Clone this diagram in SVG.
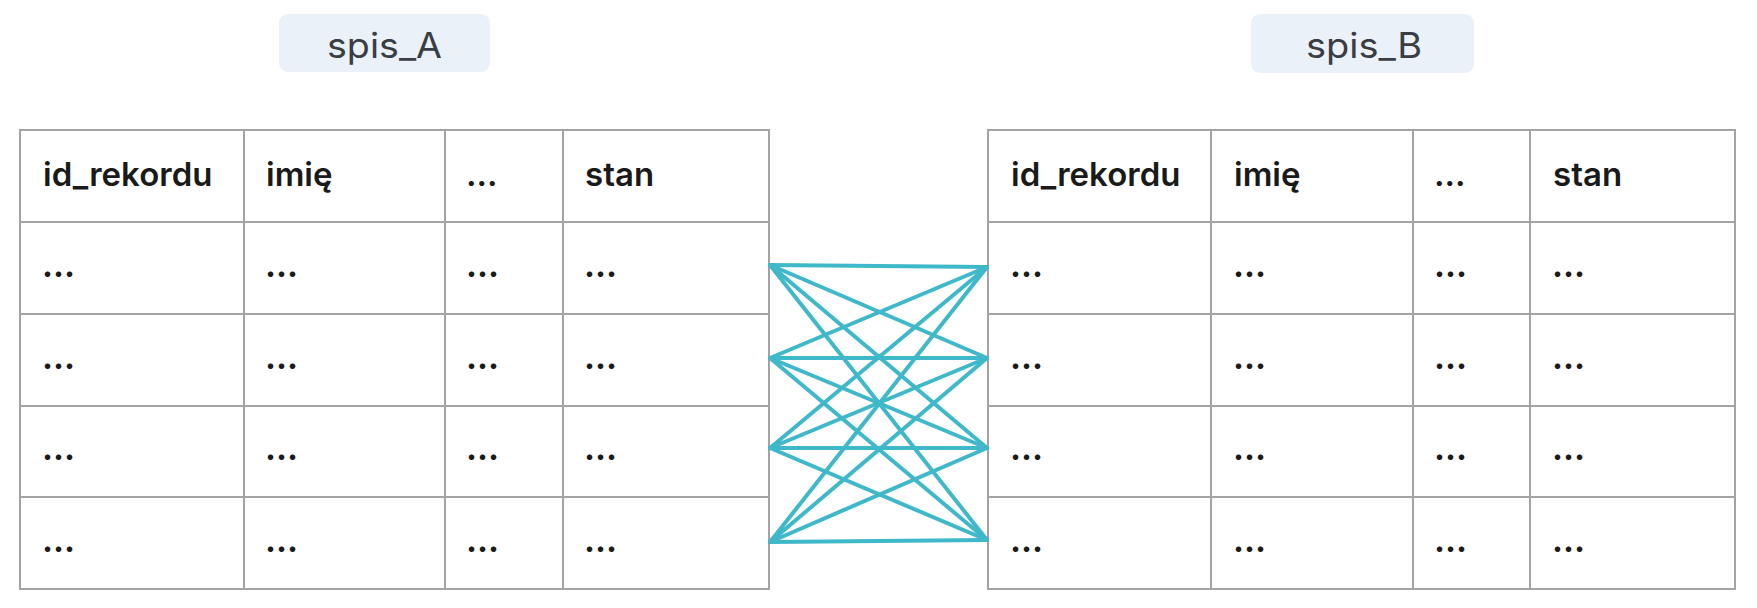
<svg xmlns="http://www.w3.org/2000/svg" width="1757" height="608" viewBox="0 0 1757 608">
<style>
.lbl{fill:#eaf1f8}
.lt{font-family:Inter,"Noto Sans",sans-serif;font-size:35px;fill:#3a3d42}
.grid{fill:none;stroke:#a3a3a3;stroke-width:2}
.h{font-family:Inter,"Noto Sans",sans-serif;font-size:33px;font-weight:600;fill:#1a1a1a}
.d{font-family:Inter,"Noto Sans",sans-serif;font-size:33px;font-weight:700;fill:#1a1a1a}
.c{stroke:#3fb8c9;stroke-width:4;stroke-linecap:round}
</style>
<rect width="1757" height="608" fill="#ffffff"/>
<g id="spis_A">
<rect class="lbl" x="279" y="14" width="211" height="58" rx="9"/>
<text class="lt" x="327" y="58" textLength="115" lengthAdjust="spacingAndGlyphs">spis_A</text>
</g>
<g id="spis_B">
<rect class="lbl" x="1251" y="14" width="223" height="59" rx="9"/>
<text class="lt" x="1306" y="58" textLength="116" lengthAdjust="spacingAndGlyphs">spis_B</text>
</g>
<g id="tabela_A">
<rect class="grid" x="20" y="130" width="749" height="459"/>
<path class="grid" d="M244 130V589M445 130V589M563 130V589M20 222H769M20 314H769M20 406H769M20 497H769"/>
<text class="h" x="43" y="186">id_rekordu</text>
<text class="h" x="266" y="186">imię</text>
<text class="h" x="466" y="186">...</text>
<text class="h" x="585" y="186">stan</text>
<g class="d">
<text x="42" y="277">...</text><text x="265" y="277">...</text><text x="466" y="277">...</text><text x="584" y="277">...</text>
<text x="42" y="369">...</text><text x="265" y="369">...</text><text x="466" y="369">...</text><text x="584" y="369">...</text>
<text x="42" y="460">...</text><text x="265" y="460">...</text><text x="466" y="460">...</text><text x="584" y="460">...</text>
<text x="42" y="552">...</text><text x="265" y="552">...</text><text x="466" y="552">...</text><text x="584" y="552">...</text>
</g>
</g>
<g id="tabela_B">
<rect class="grid" x="988" y="130" width="747" height="459"/>
<path class="grid" d="M1211 130V589M1413 130V589M1530 130V589M988 222H1735M988 314H1735M988 406H1735M988 497H1735"/>
<text class="h" x="1011" y="186">id_rekordu</text>
<text class="h" x="1234" y="186">imię</text>
<text class="h" x="1434" y="186">...</text>
<text class="h" x="1553" y="186">stan</text>
<g class="d">
<text x="1010" y="277">...</text><text x="1233" y="277">...</text><text x="1434" y="277">...</text><text x="1552" y="277">...</text>
<text x="1010" y="369">...</text><text x="1233" y="369">...</text><text x="1434" y="369">...</text><text x="1552" y="369">...</text>
<text x="1010" y="460">...</text><text x="1233" y="460">...</text><text x="1434" y="460">...</text><text x="1552" y="460">...</text>
<text x="1010" y="552">...</text><text x="1233" y="552">...</text><text x="1434" y="552">...</text><text x="1552" y="552">...</text>
</g>
</g>
<g id="connectors" class="c">
<line x1="770" y1="265" x2="987" y2="267"/><line x1="770" y1="265" x2="987" y2="358"/><line x1="770" y1="265" x2="987" y2="448"/><line x1="770" y1="265" x2="987" y2="540"/>
<line x1="770" y1="358" x2="987" y2="267"/><line x1="770" y1="358" x2="987" y2="358"/><line x1="770" y1="358" x2="987" y2="448"/><line x1="770" y1="358" x2="987" y2="540"/>
<line x1="770" y1="448" x2="987" y2="267"/><line x1="770" y1="448" x2="987" y2="358"/><line x1="770" y1="448" x2="987" y2="448"/><line x1="770" y1="448" x2="987" y2="540"/>
<line x1="770" y1="542" x2="987" y2="267"/><line x1="770" y1="542" x2="987" y2="358"/><line x1="770" y1="542" x2="987" y2="448"/><line x1="770" y1="542" x2="987" y2="540"/>
</g>
</svg>
